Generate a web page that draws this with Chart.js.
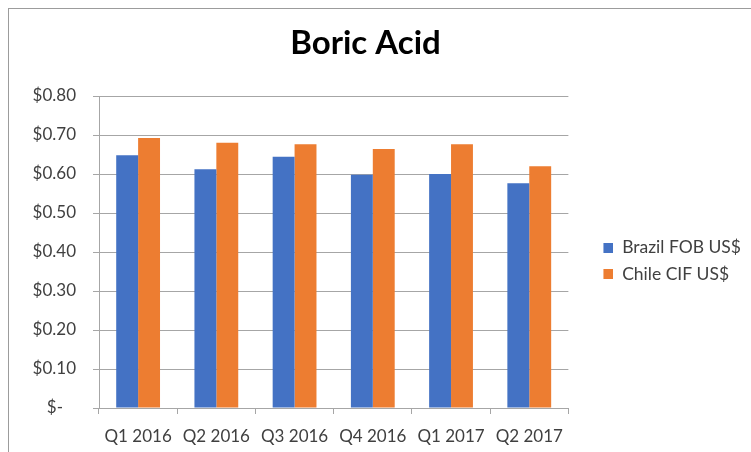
<!DOCTYPE html>
<html>
<head>
<meta charset="utf-8">
<script src="https://cdn.jsdelivr.net/npm/chart.js@4/dist/chart.umd.min.js"></script>
<style>
	html, body {
		margin: 0;
		padding: 0;
		background: #fff;
	}
	#frame {
		position: absolute;
		left: 8px;
		top: 8px;
		width: 800px;
		height: 500px;
		border-left: 1px solid #9c9c9c;
		border-top: 1px solid #9c9c9c;
	}
	#wrap {
		position: absolute;
		left: 0;
		top: 0;
		width: 751px;
		height: 452px;
	}
</style>
</head>
<body>
<div id="frame"></div>
<div id="wrap"><canvas id="chart" width="751" height="452"></canvas></div>
<script>
const quarters = ['Q1 2016', 'Q2 2016', 'Q3 2016', 'Q4 2016', 'Q1 2017', 'Q2 2017'];
const brazilFob = [0.648, 0.612, 0.644, 0.598, 0.600, 0.576];
const chileCif = [0.692, 0.680, 0.676, 0.664, 0.676, 0.620];
const yTicks = [0, 0.1, 0.2, 0.3, 0.4, 0.5, 0.6, 0.7, 0.8];

const gridGrey = '#a6a6a6';
const textGrey = '#404040';
const fontName = 'Lato';

// legend key: a 10px square pushed to the right end of a wider slot,
// so the key sits away from the plot like in the original
const keyGap = 26;
function legendKey(colour) {
	const key = document.createElement('canvas');
	key.width = keyGap + 10;
	key.height = 10;
	const ctx = key.getContext('2d');
	ctx.fillStyle = colour;
	ctx.fillRect(keyGap, 0, 10, 10);
	return key;
}

function moneyLabel(value) {
	if (value === 0) {
		return '$-   ';
	}
	return '$' + value.toFixed(2);
}

function drawChart() {
	new Chart(document.getElementById('chart'), {
		type: 'bar',
		data: {
			labels: quarters,
			datasets: [
				{
					label: 'Brazil FOB US$',
					data: brazilFob,
					backgroundColor: '#4472c4',
				},
				{
					label: 'Chile CIF US$',
					data: chileCif,
					backgroundColor: '#ed7d31',
				},
			],
		},
		options: {
			responsive: false,
			animation: false,
			datasets: {
				bar: {
					categoryPercentage: 0.56,
					barPercentage: 1.0,
				},
			},
			layout: {
				padding: { left: -20, right: 0, top: 0, bottom: 0 },
			},
			plugins: {
				title: {
					display: true,
					text: 'Boric Acid',
					color: '#000',
					font: { family: fontName, size: 33, weight: 'bold' },
					padding: { top: 24, bottom: 32.4 },
				},
				legend: {
					position: 'right',
					fullSize: false,
					title: {
						display: true,
						text: '',
						font: { size: 1 },
						padding: { top: 17, bottom: 0 },
					},
					labels: {
						usePointStyle: true,
						pointStyleWidth: keyGap + 10,
						boxHeight: 10,
						padding: 9,
						color: textGrey,
						font: { family: fontName, size: 17.5 },
						generateLabels(chart) {
							const items = Chart.defaults.plugins.legend.labels.generateLabels(chart);
							items.forEach((item) => {
								item.pointStyle = legendKey(chart.data.datasets[item.datasetIndex].backgroundColor);
							});
							return items;
						},
					},
				},
				tooltip: { enabled: false },
			},
			scales: {
				x: {
					grid: {
						display: true,
						drawOnChartArea: false,
						drawTicks: true,
						tickLength: 6,
						color: gridGrey,
					},
					border: { display: true, color: gridGrey },
					ticks: {
						color: textGrey,
						padding: 12,
						maxRotation: 0,
						font: { family: fontName, size: 17 },
					},
					afterFit(scale) {
						scale.height = 44;
					},
				},
				y: {
					position: 'left',
					min: 0,
					max: 0.8,
					afterBuildTicks(scale) {
						scale.ticks = yTicks.map((v) => ({ value: v }));
					},
					grid: {
						color: gridGrey,
						tickLength: 6,
					},
					border: { display: true, color: gridGrey },
					ticks: {
						color: textGrey,
						padding: 17,
						crossAlign: 'near',
						font: { family: fontName, size: 17 },
						callback: (value) => moneyLabel(value),
					},
					afterFit(scale) {
						scale.width = 119;
					},
				},
			},
		},
	});
}

document.fonts.load('17px Lato').then(() => document.fonts.load('bold 33px Lato')).then(drawChart, drawChart);
</script>
</body>
</html>
